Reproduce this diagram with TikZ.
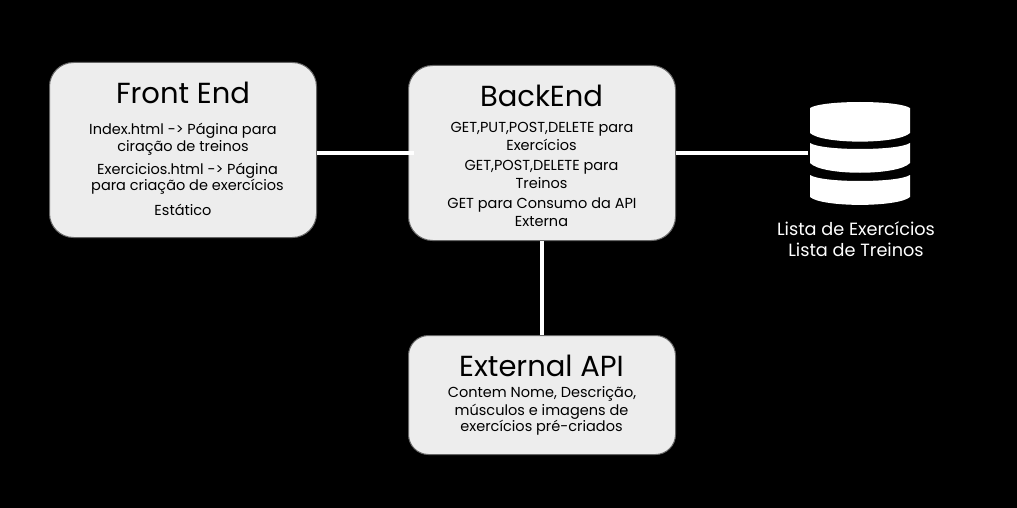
\documentclass[tikz,border=0pt]{standalone}
\usepackage{fontspec}
\setmainfont{Poppins}
\tikzset{
  x=1pt,y=-1pt,
  card/.style={draw=black!60,line width=1pt,fill=black!7,inner sep=0pt,rectangle,rounded corners=24pt,anchor=north west},
  title/.style={anchor=base,inner sep=0pt,font=\fontsize{29}{29}\selectfont,text=black},
  body/.style={anchor=base,inner sep=0pt,font=\fontsize{14.5}{14.5}\selectfont,text=black},
  dblabel/.style={anchor=base,inner sep=0pt,font=\fontsize{17.7}{17.7}\selectfont,text=white},
  link/.style={draw=white,line width=4pt},
  disk/.style={fill=white,draw=none}
}
\begin{document}
\begin{tikzpicture}
\useasboundingbox (0,0) rectangle (1017,508);
\fill[black] (0,0) rectangle (1017,508);
\node[card,minimum width=267pt,minimum height=175pt] (front) at (49,62) {};
\node[card,minimum width=267pt,minimum height=175pt] (back) at (408,65) {};
\node[card,minimum width=267pt,minimum height=119pt,rounded corners=20pt] (ext) at (408,335) {};
\coordinate (db) at (808,153);
\draw[link] (front.east |- back.west) -- ([xshift=6pt]back.west);
\draw[link] (back.east) -- (db);
\draw[link] (back.south) -- (ext.north);
% database icon
\fill[disk] (810,108) .. controls (822,100) and (898,100) .. (910,108) -- (910,133) .. controls (898,144.5) and (822,144.5) .. (810,133) -- cycle;
\fill[disk] (810,143) .. controls (822,151) and (898,151) .. (910,143) -- (910,163) .. controls (898,176) and (822,176) .. (810,163) -- cycle;
\fill[disk] (810,175) .. controls (822,183) and (898,183) .. (910,175) -- (910,197) .. controls (898,207.5) and (822,207.5) .. (810,197) -- cycle;
% Front End
\node[title] (ft) at (183,103.5) {Front End};
\node[body] (f1) at (183,135) {Index.html -> Página para};
\node[body] (f2) at (183,152) {ciração de treinos};
\node[body] (f3) at (187.5,174) {Exercicios.html -> Página};
\node[body] (f4) at (187.5,190.5) {para criação de exercícios};
\node[body] (f5) at (183,215) {Estático};
% BackEnd
\node[title] (bt) at (541.5,106.5) {BackEnd};
\node[body] (b1) at (542,132) {GET,PUT,POST,DELETE para};
\node[body] (b2) at (541.5,150) {Exercícios};
\node[body] (b3) at (541.5,171) {GET,POST,DELETE para};
\node[body] (b4) at (541.5,188) {Treinos};
\node[body] (b5) at (542,208) {GET para Consumo da API};
\node[body] (b6) at (541.5,226) {Externa};
% External API
\node[title] (et) at (541.5,376.5) {External API};
\node[body] (e1) at (542,397) {Contem Nome, Descrição,};
\node[body] (e2) at (541.5,415) {músculos e imagens de};
\node[body] (e3) at (541.5,431) {exercícios pré-criados};
% database label
\node[dblabel] (d1) at (856,235) {Lista de Exercícios};
\node[dblabel] (d2) at (856,256) {Lista de Treinos};
\end{tikzpicture}
\end{document}
